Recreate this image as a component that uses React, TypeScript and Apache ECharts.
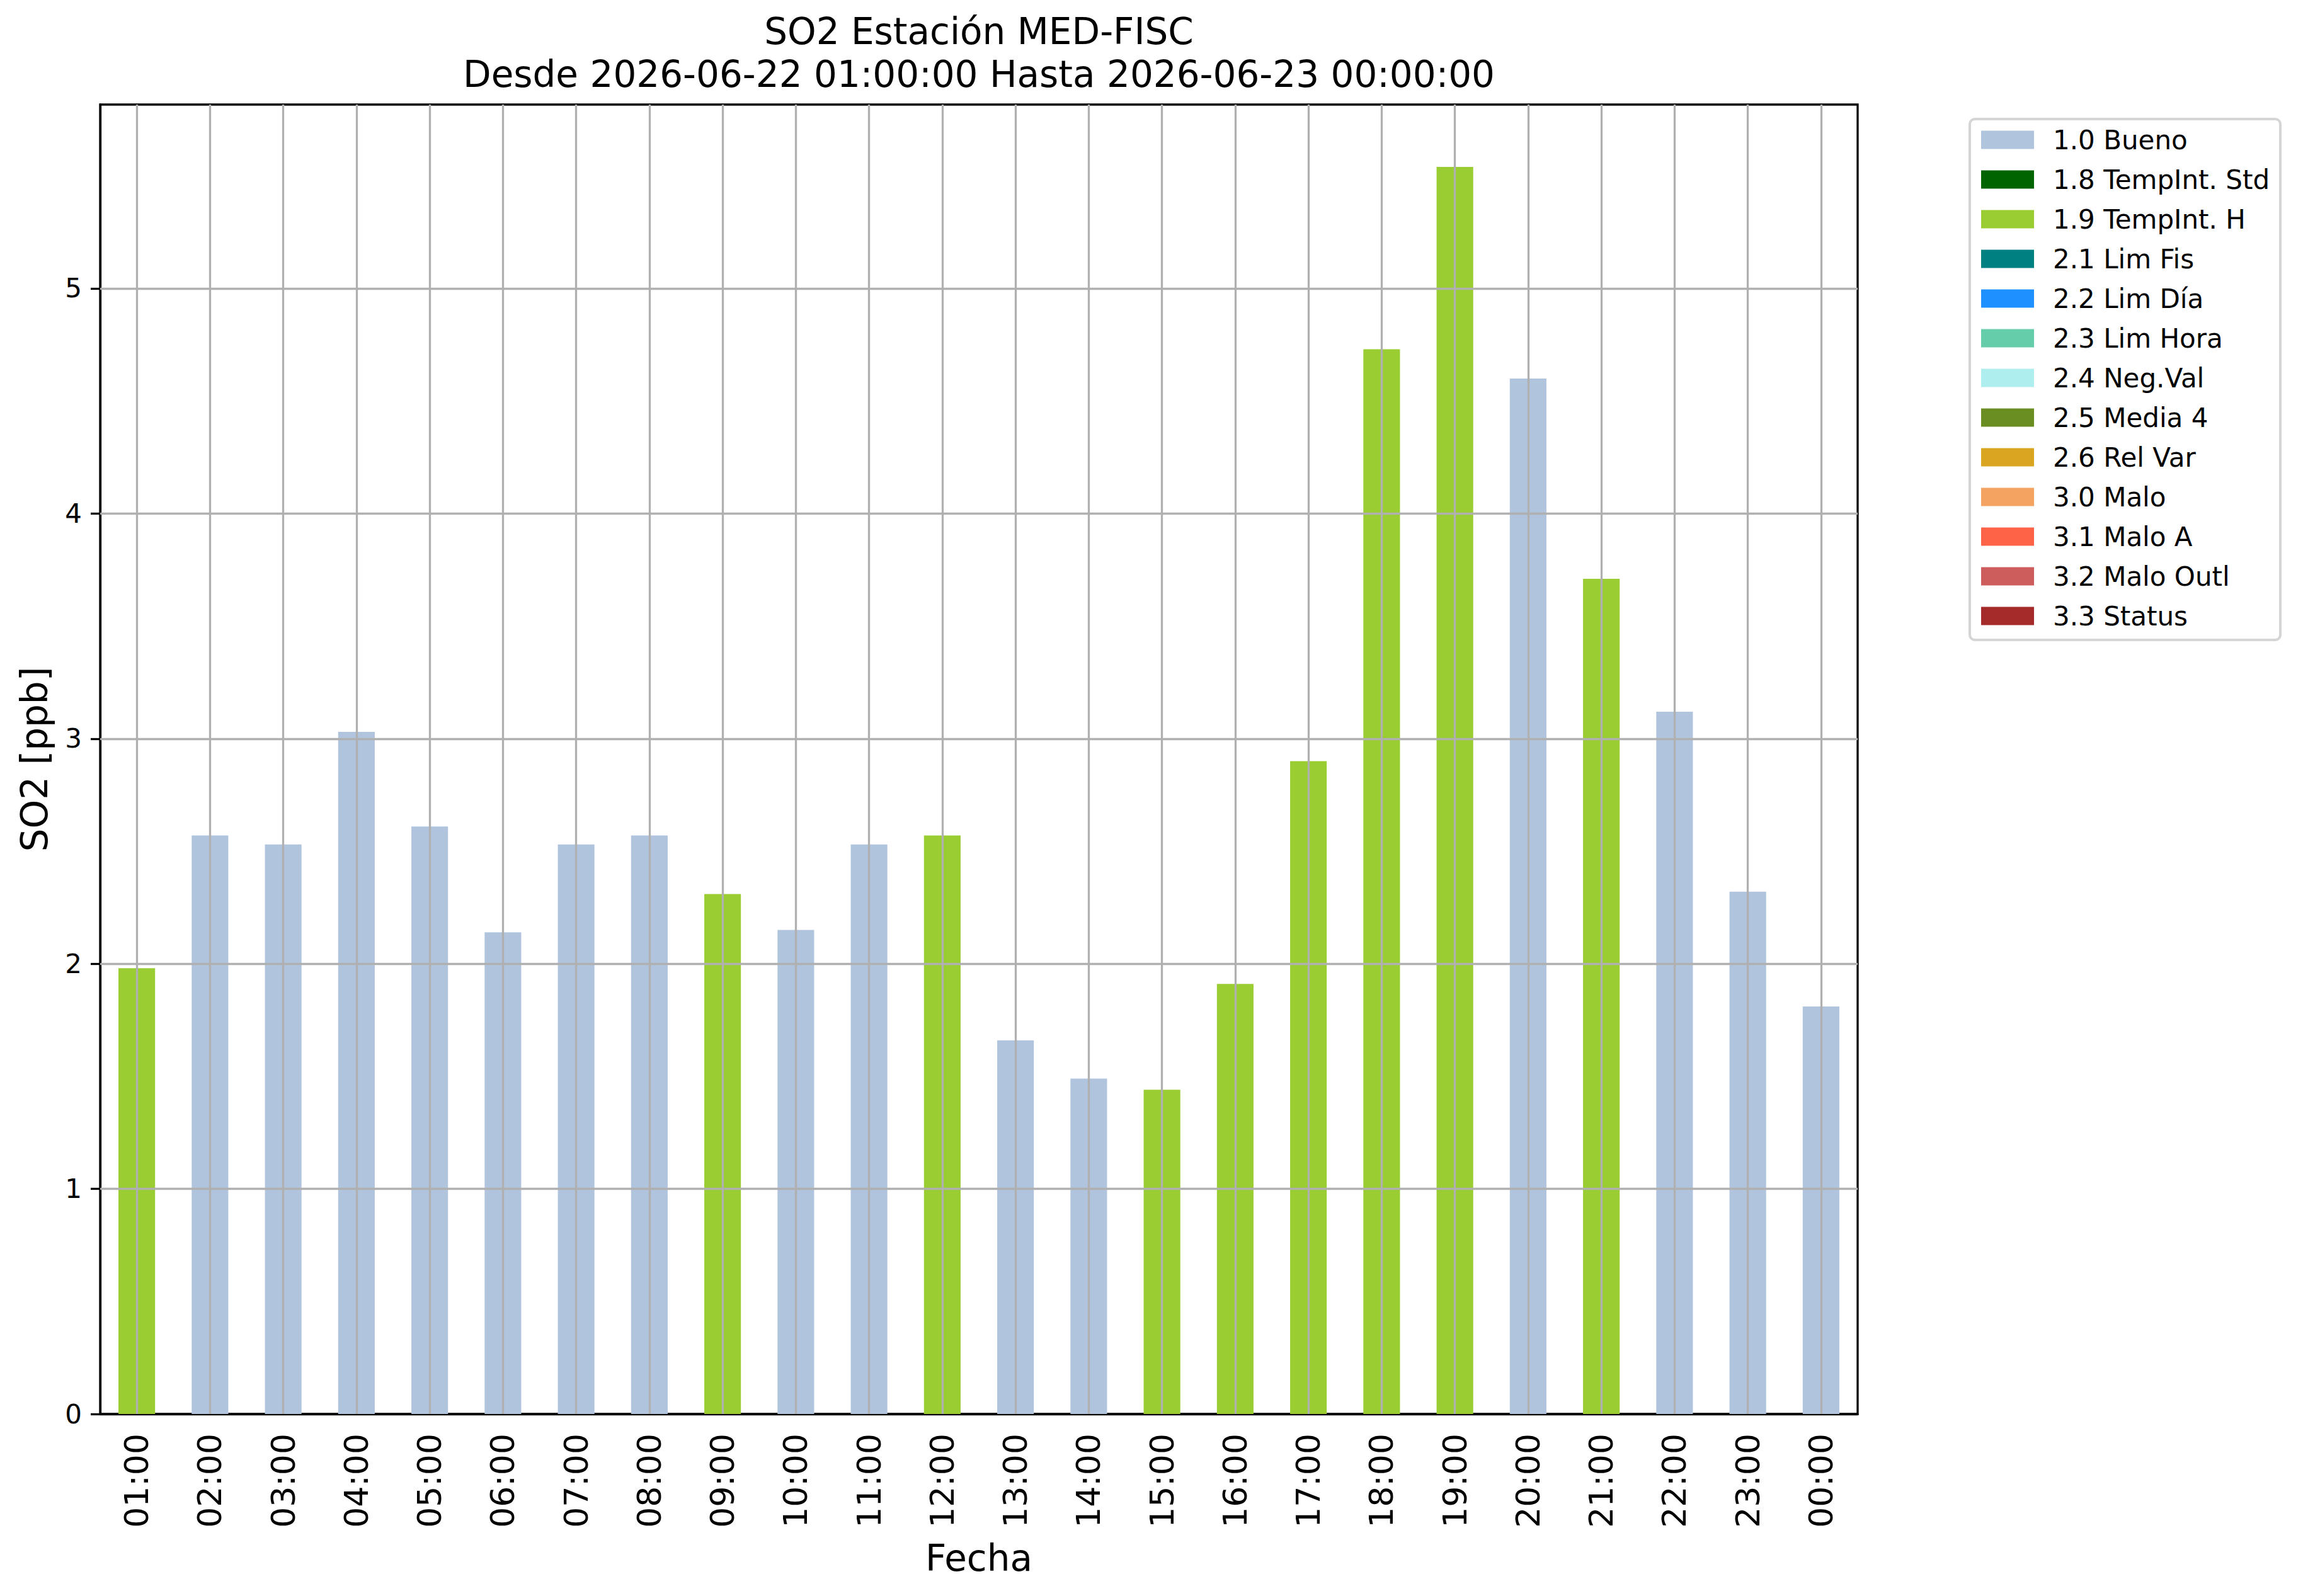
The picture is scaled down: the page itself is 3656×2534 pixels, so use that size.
import React, { useEffect, useRef } from 'react';
import * as echarts from 'echarts';

const FONT = 'DejaVu Sans';

const hours = ['01:00', '02:00', '03:00', '04:00', '05:00', '06:00', '07:00', '08:00', '09:00', '10:00', '11:00', '12:00',
  '13:00', '14:00', '15:00', '16:00', '17:00', '18:00', '19:00', '20:00', '21:00', '22:00', '23:00', '00:00'];

const so2Values = [1.98, 2.57, 2.53, 3.03, 2.61, 2.14, 2.53, 2.57, 2.31, 2.15, 2.53, 2.57,
  1.66, 1.49, 1.44, 1.91, 2.90, 4.73, 5.54, 4.60, 3.71, 3.12, 2.32, 1.81];

const hourFlags = ['1.9', '1.0', '1.0', '1.0', '1.0', '1.0', '1.0', '1.0', '1.9', '1.0', '1.0', '1.9',
  '1.0', '1.0', '1.9', '1.9', '1.9', '1.9', '1.9', '1.0', '1.9', '1.0', '1.0', '1.0'];

const flagCodes = ['1.0', '1.8', '1.9', '2.1', '2.2', '2.3', '2.4', '2.5', '2.6', '3.0', '3.1', '3.2', '3.3'];
const flagNames = ['1.0 Bueno', '1.8 TempInt. Std', '1.9 TempInt. H', '2.1 Lim Fis', '2.2 Lim Día', '2.3 Lim Hora',
  '2.4 Neg.Val', '2.5 Media 4', '2.6 Rel Var', '3.0 Malo', '3.1 Malo A', '3.2 Malo Outl', '3.3 Status'];
const flagColors = ['#B0C4DE', '#006400', '#9ACD32', '#008080', '#1E90FF', '#66CDAA', '#AFEEEE', '#6B8E23',
  '#DAA520', '#F4A460', '#FF6347', '#CD5C5C', '#A52A2A'];

const yTicks = [1, 2, 3, 4, 5];
const yMax = 5.817;

const titleText = 'SO2 Estación MED-FISC\nDesde 2026-06-22 01:00:00 Hasta 2026-06-23 00:00:00';

export default function App() {
  const ref = useRef<HTMLDivElement>(null);
  useEffect(() => {
    const chart = echarts.init(ref.current as HTMLDivElement, null, { renderer: 'svg' });
    const gridLine = { color: '#b0b0b0', width: 3.3, type: 'solid' as const };
    const markLine = {
      silent: true,
      symbol: ['none', 'none'],
      label: { show: false },
      emphasis: { disabled: true },
      lineStyle: gridLine,
      z: 5,
      data: [
        ...hours.map((h) => ({ xAxis: h })),
        ...yTicks.map((v) => ({ yAxis: v })),
      ],
    };
    const series = flagNames.map((name, i) => ({
      name,
      type: 'bar',
      stack: 'total',
      barWidth: '50%',
      itemStyle: { color: flagColors[i] },
      emphasis: { disabled: true },
      data: so2Values.map((v, j) => (hourFlags[j] === flagCodes[i] ? v : '-')),
      ...(i === 0 ? { markLine } : {}),
    }));
    chart.setOption({
      animation: false,
      backgroundColor: '#ffffff',
      textStyle: { fontFamily: FONT },
      title: {
        text: titleText,
        left: 1554,
        top: 16,
        padding: 0,
        textAlign: 'center',
        textStyle: { fontFamily: FONT, fontSize: 58, fontWeight: 'normal', color: '#000', lineHeight: 68 },
      },
      legend: {
        orient: 'vertical',
        left: 3127,
        top: 189,
        padding: [12, 17, 17, 18],
        itemWidth: 84,
        itemHeight: 29,
        itemGap: 21,
        icon: 'rect',
        selectedMode: false,
        backgroundColor: '#ffffff',
        borderColor: '#d5d5d5',
        borderWidth: 4,
        borderRadius: 8,
        textStyle: { fontFamily: FONT, fontSize: 42, color: '#000', lineHeight: 42, padding: [0, 0, 0, 25] },
        data: flagNames,
      },
      grid: {
        left: 159,
        top: 166,
        right: 707,
        bottom: 289,
        show: true,
        borderColor: '#000',
        borderWidth: 3.3,
        backgroundColor: 'transparent',
        containLabel: false,
      },
      xAxis: {
        type: 'category',
        data: hours,
        boundaryGap: true,
        name: 'Fecha',
        nameLocation: 'middle',
        nameGap: 200,
        nameTextStyle: { fontFamily: FONT, fontSize: 58, color: '#000' },
        axisLine: { lineStyle: { color: '#000', width: 3.3 } },
        axisTick: { alignWithLabel: true, length: 15, inside: false, lineStyle: { color: '#000', width: 3.3 } },
        axisLabel: { rotate: 90, margin: 31, fontFamily: FONT, fontSize: 52, color: '#000' },
        splitLine: { show: false },
      },
      yAxis: {
        type: 'value',
        min: 0,
        max: yMax,
        interval: 1,
        name: 'SO2 [ppb]',
        nameLocation: 'middle',
        nameGap: 75,
        nameTextStyle: { fontFamily: FONT, fontSize: 58, color: '#000' },
        axisLine: { show: true, lineStyle: { color: '#000', width: 3.3 } },
        axisTick: { show: true, length: 15, inside: false, lineStyle: { color: '#000', width: 3.3 } },
        axisLabel: { margin: 29, fontFamily: FONT, fontSize: 42, color: '#000', showMaxLabel: false },
        splitLine: { show: false },
      },
      series,
    });
    return () => chart.dispose();
  }, []);
  return (
    <div
      ref={ref}
      style={{ position: 'absolute', left: 0, top: 0, width: 3656, height: 2534, background: '#fff' }}
    />
  );
}
